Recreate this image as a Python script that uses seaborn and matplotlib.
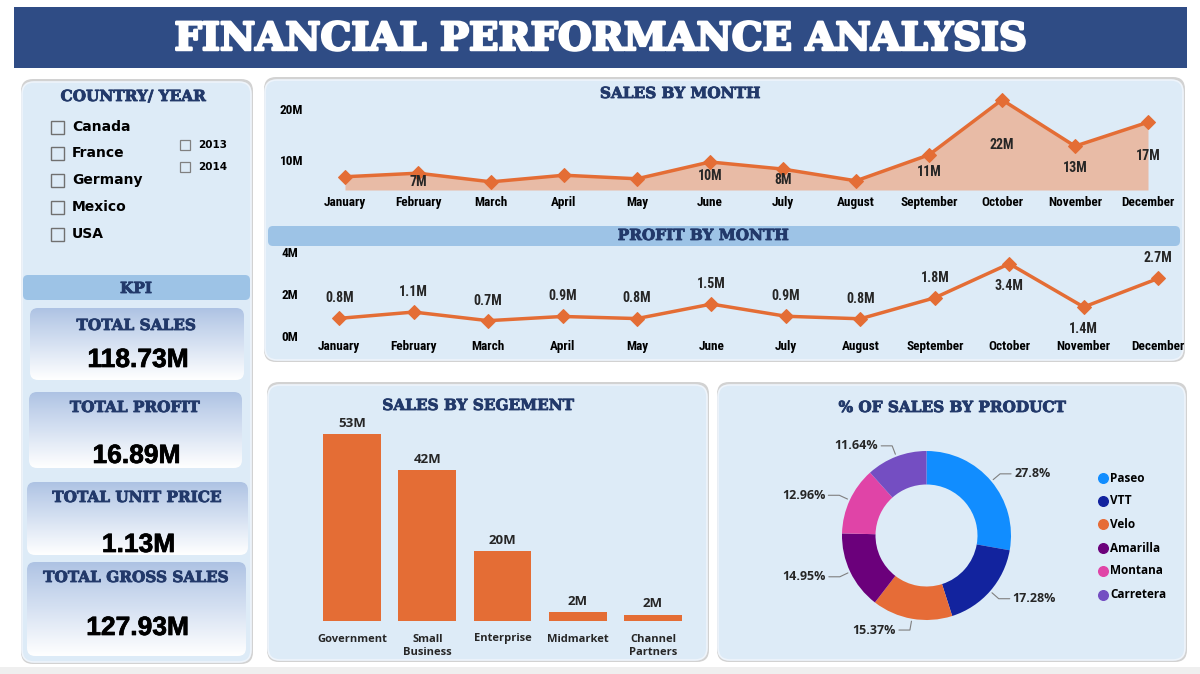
import matplotlib
matplotlib.use("Agg")
import matplotlib.pyplot as plt
import matplotlib.patheffects as pe
from matplotlib import font_manager
from matplotlib.patches import FancyBboxPatch, Rectangle
from matplotlib.colors import LinearSegmentedColormap
import numpy as np
import seaborn as sns

# === data (values in millions) ===
months = ["January", "February", "March", "April", "May", "June",
          "July", "August", "September", "October", "November", "December"]
sales_month = [6.7, 7.4, 5.7, 7.0, 6.3, 9.6, 8.2, 5.9, 11.0, 21.8, 12.7, 17.4]
sales_label_shown = [0, 1, 0, 0, 0, 1, 1, 0, 1, 1, 1, 1]
profit_month = [0.84, 1.14, 0.73, 0.93, 0.83, 1.52, 0.94, 0.82, 1.82, 3.44, 1.38, 2.74]
profit_label_below = [0, 0, 0, 0, 0, 0, 0, 0, 0, 1, 1, 0]

segments = ["Government", "Small\nBusiness", "Enterprise", "Midmarket", "Channel\nPartners"]
segment_sales = [52.6, 42.4, 19.6, 2.4, 1.8]

products = ["Paseo", "VTT", "Velo", "Amarilla", "Montana", "Carretera"]
product_share = [27.8, 17.28, 15.37, 14.95, 12.96, 11.64]
product_colors = ["#118DFF", "#12239E", "#E66C37", "#6B007B", "#E044A7", "#744EC2"]

countries = ["Canada", "France", "Germany", "Mexico", "USA"]
years = ["2013", "2014"]
kpi_names = ["TOTAL SALES", "TOTAL PROFIT", "TOTAL UNIT PRICE", "TOTAL GROSS SALES"]
kpi_values = ["118.73M", "16.89M", "1.13M", "127.93M"]

# === style ===
W, H = 1200, 674
NAVY = "#22396A"
ORANGE = "#E46D35"
PANEL = "#DDEBF7"
HEADER = "#9DC3E6"

sns.set_style("white")
names = {f.name for f in font_manager.fontManager.ttflist}
if "Liberation Sans Narrow" in names:
    NARROW, nscale = "Liberation Sans Narrow", 1.0
elif "Roboto Condensed" in names:
    NARROW, nscale = "Roboto Condensed", 0.95
else:
    NARROW, nscale = "DejaVu Sans", 0.78
SERIF = "DejaVu Serif"
UI = "Open Sans"
plt.rcParams["font.family"] = ["DejaVu Sans"]

heavy_navy = [pe.withStroke(linewidth=0.6, foreground=NAVY)]
heavy_black = [pe.withStroke(linewidth=0.5, foreground="black")]

fig = plt.figure(figsize=(W / 100, H / 100), dpi=100)
fig.patch.set_facecolor("white")

# background axes in pixel units (y downwards)
bg = fig.add_axes([0, 0, 1, 1], zorder=0)
bg.axis("off")


def px_axes(x0, y0, x1, y1):
    ax = fig.add_axes([x0 / W, 1 - y1 / H, (x1 - x0) / W, (y1 - y0) / H])
    ax.set_zorder(2)
    ax.patch.set_alpha(0)
    return ax


def panel(x0, y0, x1, y1, fc=PANEL, r=12, shadow=True, z=2):
    if shadow:
        bg.add_patch(FancyBboxPatch((x0 - 1, y0 - 3), x1 - x0 + 3, y1 - y0 + 5,
                                    boxstyle=f"round,pad=0,rounding_size={r}",
                                    fc="#9C9C9C", ec="none", alpha=0.45, zorder=z - 1))
    p = FancyBboxPatch((x0, y0), x1 - x0, y1 - y0, boxstyle=f"round,pad=0,rounding_size={r}",
                       fc=fc, ec="#EEF4FB", lw=1.2, zorder=z)
    bg.add_patch(p)
    return p


def heading(x, y, text):
    bg.text(x, y, text, family=SERIF, weight="bold", fontsize=11, color=NAVY,
            ha="center", va="center", zorder=6, path_effects=heavy_navy)


card_cmap = LinearSegmentedColormap.from_list("card", ["#ADC2E3", "#D3DFF1", "#FFFFFF"])


def card(x0, y0, x1, y1):
    p = FancyBboxPatch((x0, y0), x1 - x0, y1 - y0, boxstyle="round,pad=0,rounding_size=8",
                       fc="none", ec="none", zorder=4)
    bg.add_patch(p)
    grad = np.linspace(0, 1, 200).reshape(-1, 1) ** 0.9
    im = bg.imshow(grad, cmap=card_cmap, extent=(x0, x1, y1, y0), aspect="auto",
                   zorder=4, interpolation="bilinear")
    im.set_clip_path(p)


# === banner ===
bg.add_patch(Rectangle((14, 7), 1173, 61, fc="#2F4C85", ec="none", zorder=2))
title = bg.text(600.5, 39, "FINANCIAL PERFORMANCE ANALYSIS", color="white", family=SERIF,
                weight="bold", fontsize=30, ha="center", va="center", zorder=5,
                path_effects=[pe.withStroke(linewidth=1.8, foreground="white")])
bg.add_patch(Rectangle((0, 667), W, 7, fc="#EFEFEF", ec="none", zorder=1))

# === left panel: slicers + KPI ===
panel(22, 82, 251, 662)
heading(133, 97, "COUNTRY/ YEAR")
for i, c in enumerate(countries):
    yc = [127, 153, 180, 207, 234][i]
    bg.add_patch(Rectangle((51, yc - 6.5), 13, 13, fc="none", ec="#707070", lw=1, zorder=5))
    bg.text(72, yc, c, family="DejaVu Sans", weight="bold", fontsize=10, color="black",
            ha="left", va="center", zorder=5)
for i, yr in enumerate(years):
    yc = [145, 167][i]
    bg.add_patch(Rectangle((180, yc - 5), 10, 10, fc="none", ec="#808080", lw=0.9, zorder=5))
    bg.text(198, yc, yr, family="DejaVu Sans", weight="bold", fontsize=7.5, color="black",
            ha="left", va="center", zorder=5)

bg.add_patch(FancyBboxPatch((23, 275), 227, 25, boxstyle="round,pad=0,rounding_size=5",
                            fc=HEADER, ec="none", zorder=3))
heading(136, 289, "KPI")

card_boxes = [(30, 308, 244, 380), (29, 392, 242, 468), (27, 482, 248, 555), (27, 562, 246, 656)]
title_y = [326, 408, 498, 578]
value_y = [360, 456, 545, 628]
for (x0, y0, x1, y1), name, val, ty, vy in zip(card_boxes, kpi_names, kpi_values, title_y, value_y):
    card(x0, y0, x1, y1)
    xc = (x0 + x1) / 2
    heading(xc - 1, ty, name)
    bg.text(xc + 1, vy, val, family="Liberation Sans", weight="bold", fontsize=19, color="black",
            ha="center", va="center", zorder=6, path_effects=heavy_black)

# === month charts panel ===
panel(265, 80, 1183, 360)
heading(680, 94, "SALES BY MONTH")
bg.add_patch(FancyBboxPatch((268, 226), 912, 20, boxstyle="round,pad=0,rounding_size=5",
                            fc=HEADER, ec="none", zorder=3))
heading(703, 236, "PROFIT BY MONTH")

x = np.arange(len(months))
s_lo = 4.1
ax1 = px_axes(308.5, 98, 1184.5, 190)
ax1.fill_between(x, sales_month, s_lo, color="#E8BBA6", lw=0, zorder=1)
sns.lineplot(x=x, y=sales_month, ax=ax1, color=ORANGE, lw=2.5, marker="D", markersize=7.5,
             markeredgecolor=ORANGE, zorder=3, clip_on=False)
for i, v in enumerate(sales_month):
    if sales_label_shown[i]:
        ax1.text(i, (v + s_lo) / 2, f"{v:.0f}M", family=NARROW, weight="bold",
                 fontsize=10.5 * nscale, ha="center", va="center", zorder=4)
ax1.set_xlim(-0.5, 11.5)
ax1.set_ylim(s_lo, 22.15)
ax1.set_yticks([10, 20], ["10M", "20M"])
ax1.set_xticks(x, months)

ax2 = px_axes(302, 250, 1195.4, 336)
sns.lineplot(x=x, y=profit_month, ax=ax2, color=ORANGE, lw=2.5, marker="D", markersize=7.5,
             markeredgecolor=ORANGE, zorder=3, clip_on=False)
for i, v in enumerate(profit_month):
    off = -16 if profit_label_below[i] else 14.5
    ax2.annotate(f"{v:.1f}M", (i, v), xytext=(0, off), textcoords="offset points",
                 family=NARROW, weight="bold", fontsize=10.5 * nscale, ha="center", va="center")
ax2.set_xlim(-0.5, 11.5)
ax2.set_ylim(0, 4.095)
ax2.set_yticks([0, 2, 4], ["0M", "2M", "4M"])
ax2.set_xticks(x, months)

for ax, pad in [(ax1, 4), (ax2, 3)]:
    ax.set_xlabel("")
    ax.set_ylabel("")
    sns.despine(ax=ax, left=True, bottom=True)
    ax.tick_params(length=0, pad=pad)
    for lab in ax.get_xticklabels() + ax.get_yticklabels():
        lab.set_fontfamily(NARROW)
        lab.set_fontweight("bold")
        lab.set_fontsize(10 * nscale)
        lab.set_color("black")

# === sales by segment ===
panel(268, 385, 707, 660)
heading(478, 406, "SALES BY SEGEMENT")
axb = px_axes(314.5, 425, 690.5, 621)
sns.barplot(x=segments, y=segment_sales, ax=axb, color=ORANGE, saturation=1, width=0.77,
            linewidth=0, edgecolor="none")
axb.bar_label(axb.containers[0], labels=[f"{v:.0f}M" for v in segment_sales], padding=3,
              family=UI, weight="bold", fontsize=9.5)
axb.set_ylim(0, 55.2)
axb.set_yticks([])
axb.set_xlabel("")
axb.set_ylabel("")
sns.despine(ax=axb, left=True, bottom=True)
axb.tick_params(length=0, pad=9)
for lab in axb.get_xticklabels():
    lab.set_fontfamily(UI)
    lab.set_fontweight("bold")
    lab.set_fontsize(8)
    lab.set_linespacing(1.3)

# === % of sales by product ===
panel(718, 385, 1185, 660)
heading(952, 408, "% OF SALES BY PRODUCT")
axp = px_axes(816.5, 425.5, 1036.5, 645.5)
wedges, _ = axp.pie(product_share, colors=product_colors, startangle=90, counterclock=False,
                    radius=0.845, wedgeprops=dict(width=0.335, edgecolor="none"))
axp.set_xlim(-1.1, 1.1)
axp.set_ylim(-1.1, 1.1)
axp.set_aspect("equal")
cum = 0
for share in product_share:
    ang = np.deg2rad(90 - 360 * (cum + share / 2) / 100)
    cum += share
    x0, y0 = 0.87 * np.cos(ang), 0.87 * np.sin(ang)
    xe, ye = 0.96 * np.cos(ang), 0.96 * np.sin(ang)
    side = 1 if np.cos(ang) >= 0 else -1
    xh = xe + side * 0.11
    axp.plot([x0, xe, xh], [y0, ye, ye], color="#7F7F7F", lw=0.8, clip_on=False)
    axp.text(xh + side * 0.03, ye, f"{share:g}%", family=UI, weight="bold", fontsize=9,
             ha="left" if side > 0 else "right", va="center", clip_on=False)

leg_y = [478, 501, 524, 548, 571, 595]
for name, col, yy in zip(products, product_colors, leg_y):
    bg.scatter([1103], [yy], s=48, color=col, zorder=6)
    bg.text(1110, yy, name, family=UI, weight="bold", fontsize=8.5, color="black",
            ha="left", va="center", zorder=6)

bg.set_xlim(0, W)
bg.set_ylim(H, 0)

# fit the banner title to the reference width
bb = title.get_window_extent(renderer=fig.canvas.get_renderer())
title.set_fontsize(30 * 852 / bb.width)

fig.savefig("out.png", dpi=100, facecolor="white")
